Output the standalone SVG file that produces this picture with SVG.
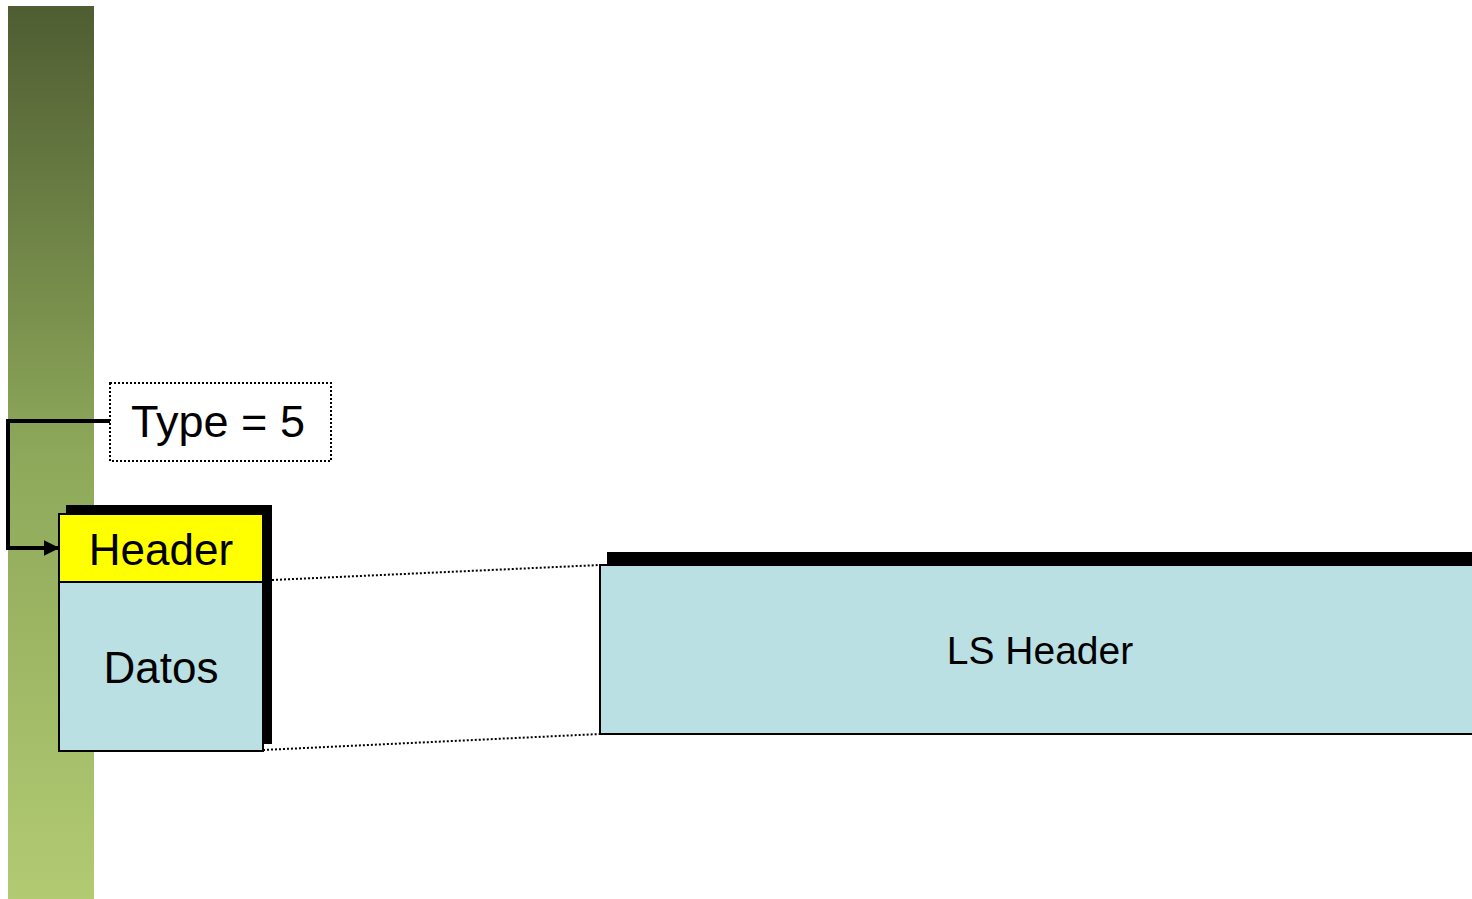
<svg xmlns="http://www.w3.org/2000/svg" width="1472" height="899" viewBox="0 0 1472 899">
<defs>
<linearGradient id="bar" x1="0" y1="0" x2="0" y2="1">
<stop offset="0" stop-color="#4f5d32"/>
<stop offset="0.5" stop-color="#8da85a"/>
<stop offset="1" stop-color="#b2ca72"/>
</linearGradient>
<marker id="arr" viewBox="0 0 10 10" refX="9" refY="5" markerWidth="4" markerHeight="4" markerUnits="strokeWidth" orient="auto">
<path d="M0,0 L10,5 L0,10 z" fill="#000"/>
</marker>
<style>
.t{font-family:"Liberation Sans",Arial,sans-serif;fill:#000;text-anchor:middle}
.box{stroke:#000;stroke-width:2}
.dot{fill:none;stroke:#000;stroke-width:2;stroke-dasharray:2 2}
</style>
</defs>
<rect x="8" y="6" width="86" height="893" fill="url(#bar)"/>
<g id="connectors">
<path d="M110,421 H8 V548 H58" fill="none" stroke="#000" stroke-width="4" marker-end="url(#arr)"/>
<line class="dot" x1="272" y1="580" x2="600" y2="565"/>
<line class="dot" x1="263" y1="750" x2="600" y2="734"/>
</g>
<g id="type-label">
<rect x="110" y="383" width="221" height="78" fill="#fff" class="dot"/>
<text class="t" x="218" y="437" font-size="45">Type = 5</text>
</g>
<g id="packet">
<rect x="66" y="505" width="206" height="239" fill="#000"/>
<rect x="59" y="514" width="204" height="68" fill="#ffff00" class="box"/>
<rect x="59" y="582" width="204" height="169" fill="#bbe0e3" class="box"/>
<text class="t" x="161" y="565" font-size="44">Header</text>
<text class="t" x="161" y="683" font-size="44">Datos</text>
</g>
<g id="ls-header">
<rect x="607" y="552" width="870" height="14" fill="#000"/>
<rect x="600" y="565" width="880" height="169" fill="#bbe0e3" class="box"/>
<text class="t" x="1040" y="664" font-size="39">LS Header</text>
</g>
</svg>
